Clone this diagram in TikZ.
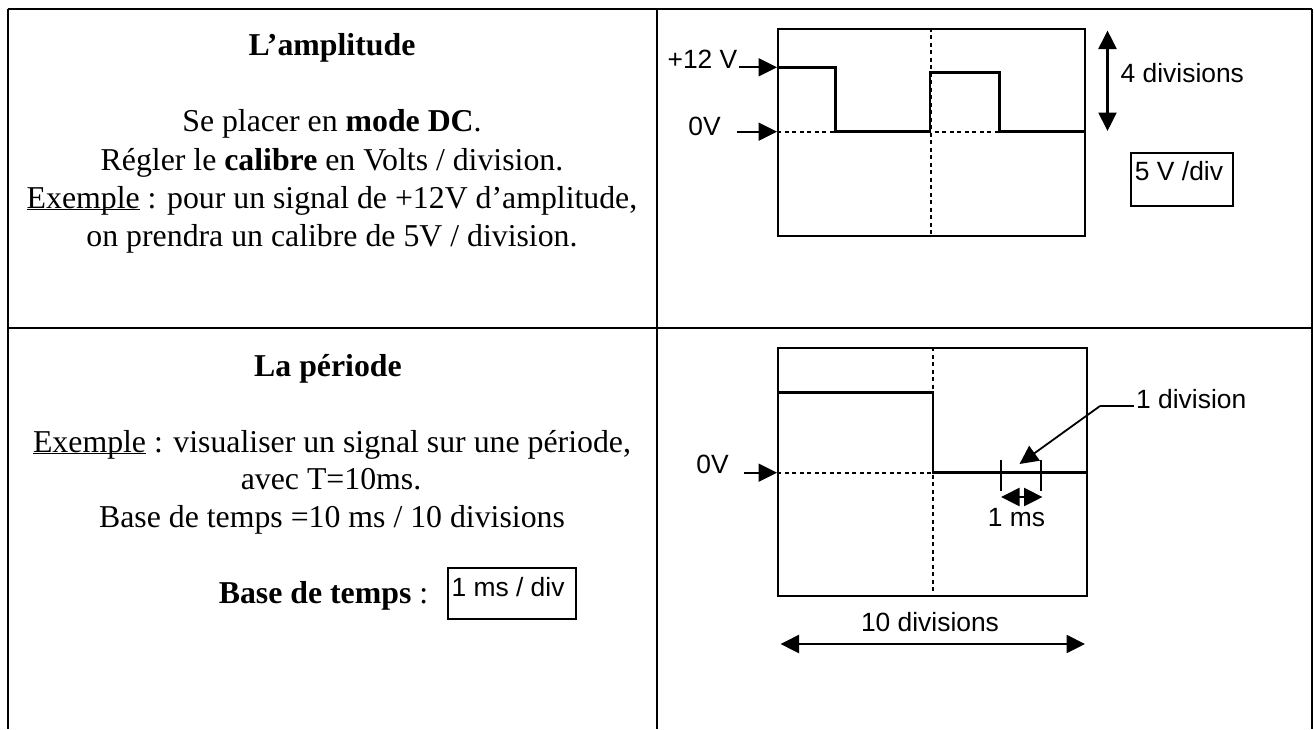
\documentclass[tikz,border=0pt]{standalone}
\usepackage{fontspec}
\setmainfont{Liberation Serif}
\setsansfont{Liberation Sans}
\usetikzlibrary{arrows.meta,positioning,calc}
\newcommand{\exword}{\underline{\smash{Exemple}}}
\tikzset{
	tableline/.style={
		line width=2pt
	},
	screen/.style={
		draw,
		line width=2pt,
		inner sep=0pt,
		anchor=north west
	},
	trace/.style={
		line width=2.5pt,
		line join=miter
	},
	axisline/.style={
		line width=2pt,
		dash pattern=on 4pt off 3.5pt
	},
	conn/.style={
		-{Triangle[length=18.5pt,width=18pt]},
		line width=1.8pt
	},
	dimline/.style={
		{Triangle[length=18.5pt,width=18pt]}-{Triangle[length=18.5pt,width=18pt]},
		line width=2.2pt
	},
	tick/.style={
		line width=2pt
	},
	body/.style={
		font=\fontsize{31.8}{36}\selectfont,
		inner sep=0pt,
		anchor=base
	},
	label/.style={
		font=\sffamily\fontsize{26.4}{30}\selectfont,
		inner sep=0pt
	},
	calbox/.style={
		draw,
		line width=2pt,
		inner sep=0pt,
		anchor=north west
	}
}
\begin{document}
\begin{tikzpicture}[x=1pt,y=-1pt]
	\useasboundingbox (0,0) rectangle (1314,729);
	
	% Table
	\coordinate (TL) at (7.5,9);
	\coordinate (TM) at (656.5,9);
	\coordinate (TR) at (1312,9);
	\coordinate (ML) at (7.5,328);
	\coordinate (MR) at (1312,328);
	\coordinate (BL) at (7.5,729);
	\coordinate (BM) at (656.5,729);
	\coordinate (BR) at (1312,729);
	\draw[tableline] (TL) -- (TR);
	\draw[tableline] (ML) -- (MR);
	\draw[tableline] (TL) -- (BL);
	\draw[tableline] (TM) -- (BM);
	\draw[tableline] (TR) -- (BR);
	
	% Amplitude text
	\node[body] (T1) at (332,55) {\textbf{L’amplitude}};
	\node[body] (A1) at (332,131) {Se placer en \textbf{mode DC}.};
	\node[body] (A2) at (332,170) {Régler le \textbf{calibre} en Volts / division.};
	\node[body] (A3) at (332,208) {\exword{} : pour un signal de +12V d’amplitude,};
	\node[body] (A4) at (332,246) {on prendra un calibre de 5V / division.};
	
	% Period text
	\node[body] (T2) at (328,376) {\textbf{La période}};
	\node[body] (P1) at (332,452) {\exword{} : visualiser un signal sur une période,};
	\node[body] (P2) at (331,489) {avec T=10ms.};
	\node[body] (P3) at (332,527) {Base de temps =10 ms / 10 divisions};
	\node[body] (P4) at (323.5,603) {\textbf{Base de temps} :};
	\node[calbox,minimum width=128pt,minimum height=51pt] (B2) at (447,566.5) {};
	\node[label] at (508,587.5) {1 ms / div};
	
	% First screen
	\node[screen,minimum width=306.5pt,minimum height=207.5pt] (S1) at (777,27.7) {};
	\coordinate (S1z) at (777,131.7);
	\coordinate (S1h) at (777,67.3);
	\coordinate (S1r) at (1083.5,131.7);
	\draw[axisline] (S1.north) -- (S1.south);
	\draw[axisline] (S1z) -- (S1r);
	\draw[trace] (S1h) -| (835.6,131.7) -- (930,131.7) |- (999.5,72.3) |- (S1r);
	
	\coordinate (A12) at (739,67.3);
	\coordinate (A0) at (736.5,131.7);
	\draw[conn] (A12) -- (S1h);
	\draw[conn] (A0) -- (S1z);
	\node[label] (L12) at (702.5,59) {+12 V};
	\node[label] (L0) at (704.5,126) {0V};
	
	\coordinate (D1) at (1107.5,30.5);
	\coordinate (D2) at (1107.5,131);
	\draw[dimline] (D1) -- (D2);
	\node[label,anchor=west] (L4) at (1120.5,73) {4 divisions};
	\node[calbox,minimum width=102pt,minimum height=53pt] (B1) at (1130,152) {};
	\node[label] at (1179,171.5) {5 V /div};
	
	% Second screen
	\node[screen,minimum width=309pt,minimum height=248pt] (S2) at (777,347) {};
	\coordinate (S2z) at (777,472.7);
	\coordinate (S2h) at (777,392.3);
	\coordinate (S2c) at (933,472.7);
	\coordinate (S2r) at (1086,472.7);
	\draw[axisline] (S2.north) -- (S2.south);
	\draw[axisline] (S2z) -- (S2c);
	\draw[trace] (S2h) -| (S2c) -- (S2r);
	
	\coordinate (A3) at (744,472.7);
	\draw[conn] (A3) -- (S2z);
	\node[label] (L0b) at (712.5,464) {0V};
	
	% One division marks
	\coordinate (K1) at (1001,459.5);
	\coordinate (K2) at (1001,491);
	\coordinate (K3) at (1041,459.5);
	\coordinate (K4) at (1041,491);
	\draw[tick] (K1) -- (K2);
	\draw[tick] (K3) -- (K4);
	\coordinate (M1) at (1001,497);
	\coordinate (M2) at (1042.5,497);
	\draw[dimline] (M1) -- (M2);
	\node[label] (Lms) at (1016.5,518) {1 ms};
	
	% Leader
	\node[label,anchor=west] (Ldiv) at (1136,399) {1 division};
	\coordinate (Lk) at (1100,406);
	\coordinate (Lt) at (1019.5,464);
	\coordinate (Ls) at (1134,406);
	\draw[line width=1.8pt] (Ls) -- (Lk);
	\draw[conn] (Lk) -- (Lt);
	
	% Bottom dimension
	\node[label] (L10) at (930,622) {10 divisions};
	\coordinate (D3) at (780.5,644);
	\coordinate (D4) at (1085,644);
	\draw[dimline] (D3) -- (D4);
	
\end{tikzpicture}
\end{document}
